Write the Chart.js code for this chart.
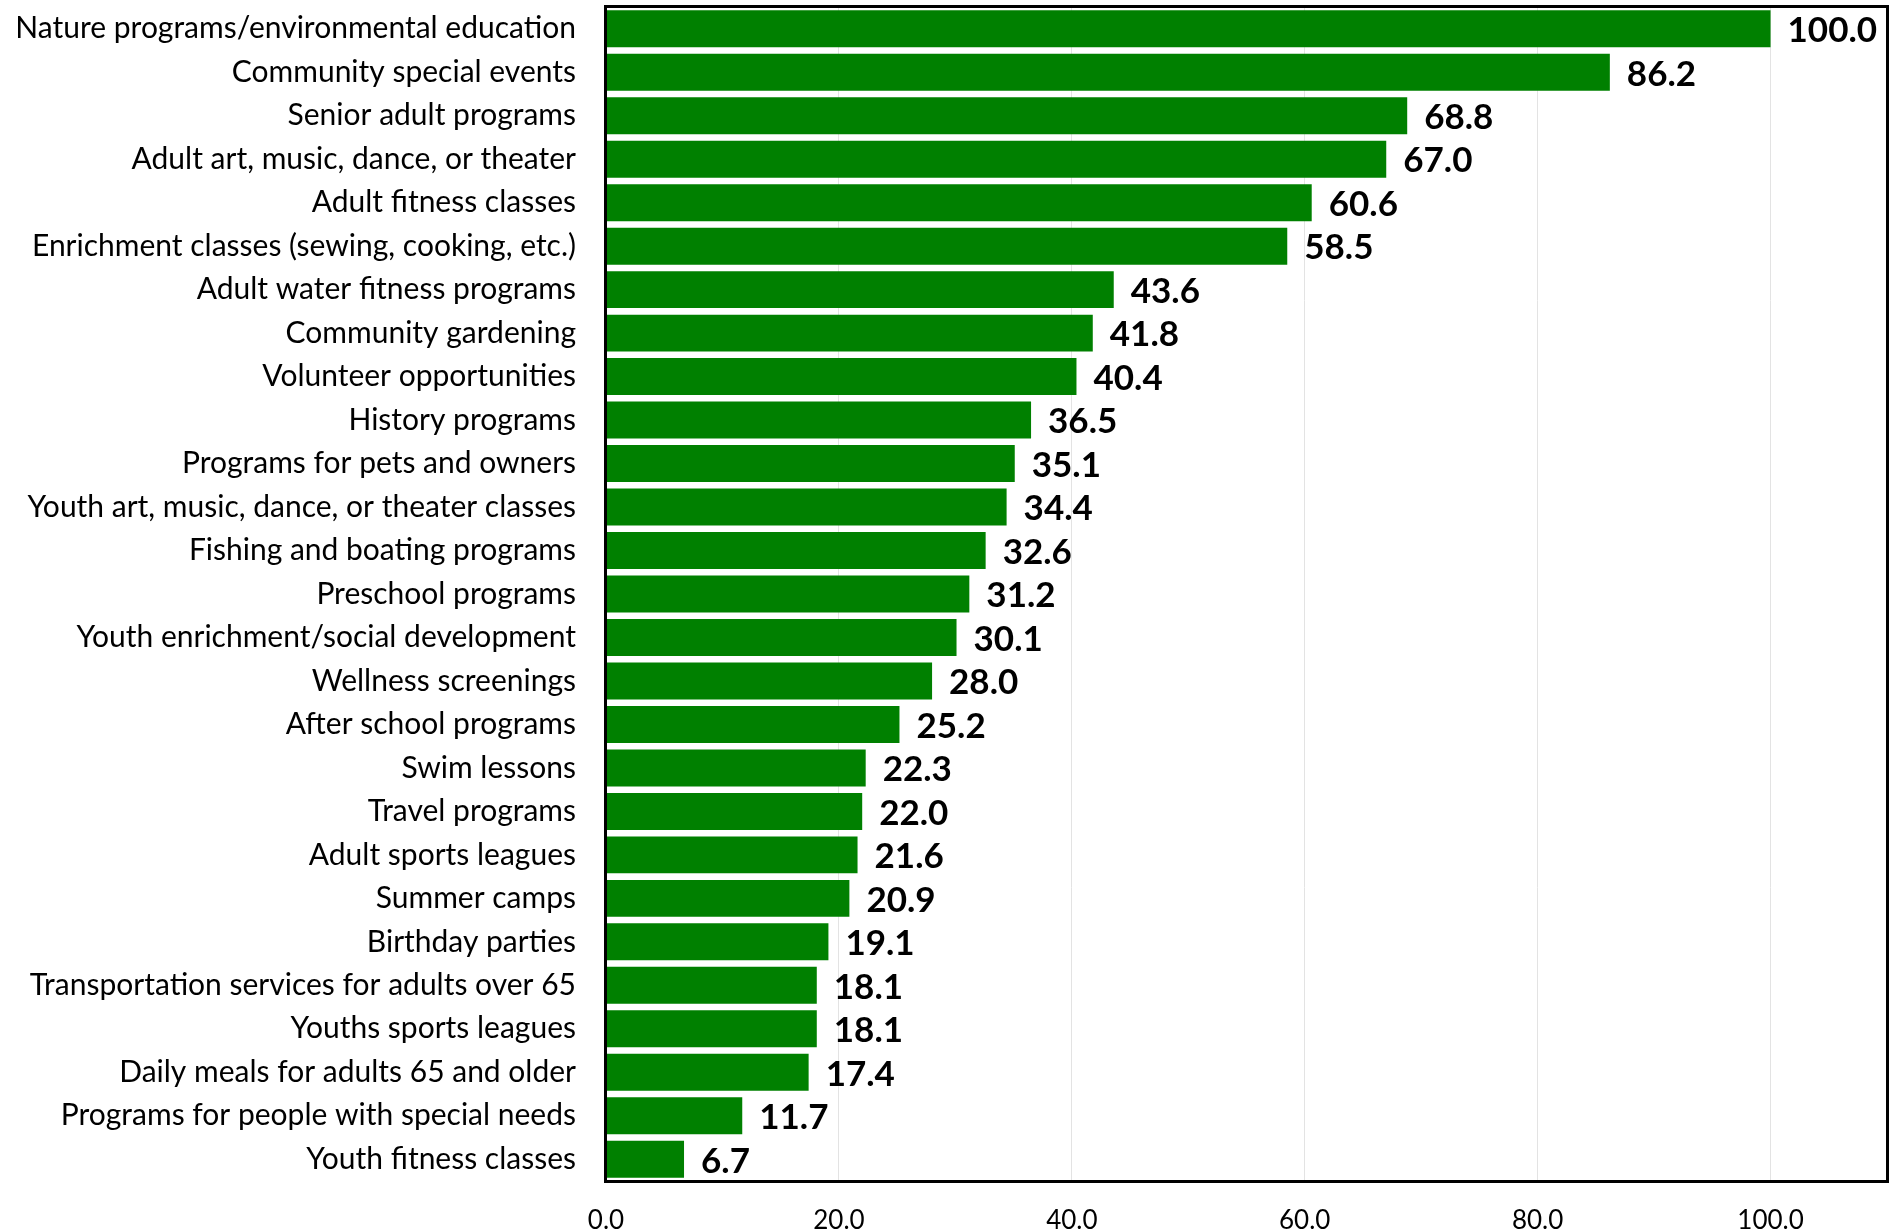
<!DOCTYPE HTML>
<html>
<head>
    <script src="https://cdn.jsdelivr.net/npm/chart.js@4.4.0/dist/chart.umd.min.js"></script>
    <style>
        body { margin: 0; background: #fff; }
        #wrap { width: 1898px; height: 1231px; }
    </style>
</head>
<body>
<div id="wrap"><canvas id="bar-chart"></canvas></div>

<script>
    var programs = [
        "Nature programs/environmental education",
        "Community special events",
        "Senior adult programs",
        "Adult art, music, dance, or theater",
        "Adult fitness classes",
        "Enrichment classes (sewing, cooking, etc.)",
        "Adult water fitness programs",
        "Community gardening",
        "Volunteer opportunities",
        "History programs",
        "Programs for pets and owners",
        "Youth art, music, dance, or theater classes",
        "Fishing and boating programs",
        "Preschool programs",
        "Youth enrichment/social development",
        "Wellness screenings",
        "After school programs",
        "Swim lessons",
        "Travel programs",
        "Adult sports leagues",
        "Summer camps",
        "Birthday parties",
        "Transportation services for adults over 65",
        "Youths sports leagues",
        "Daily meals for adults 65 and older",
        "Programs for people with special needs",
        "Youth fitness classes"
    ];
    var percents = [100.0, 86.2, 68.8, 67.0, 60.6, 58.5, 43.6, 41.8, 40.4, 36.5, 35.1, 34.4, 32.6,
                    31.2, 30.1, 28.0, 25.2, 22.3, 22.0, 21.6, 20.9, 19.1, 18.1, 18.1, 17.4, 11.7, 6.7];
    var xTicks = [0, 20, 40, 60, 80, 100];

    var fontName = "Lato, 'Open Sans', sans-serif";

    // value labels at the end of each bar
    var valueLabels = {
        id: 'valueLabels',
        afterDatasetsDraw: function(chart) {
            var ctx = chart.ctx;
            var meta = chart.getDatasetMeta(0);
            ctx.save();
            ctx.font = "bold 35px " + fontName;
            ctx.fillStyle = "#000";
            ctx.textAlign = "left";
            ctx.textBaseline = "middle";
            meta.data.forEach(function(bar, i) {
                ctx.fillText(percents[i].toFixed(1), bar.x + 17, bar.y + 2);
            });
            ctx.restore();
        }
    };

    // black frame round the plot area
    var plotFrame = {
        id: 'plotFrame',
        afterDraw: function(chart) {
            var a = chart.chartArea;
            var ctx = chart.ctx;
            ctx.save();
            ctx.strokeStyle = "#000";
            ctx.lineWidth = 3;
            ctx.strokeRect(a.left - 0.5, a.top - 0.5, a.right - a.left + 1, a.bottom - a.top + 1);
            ctx.restore();
        }
    };

    new Chart(document.getElementById("bar-chart"), {
        type: 'bar',
        data: {
            labels: programs,
            datasets: [{
                data: percents,
                backgroundColor: "#008000",
                borderWidth: 0,
                barPercentage: 0.85,
                categoryPercentage: 1.0
            }]
        },
        plugins: [valueLabels, plotFrame],
        options: {
            indexAxis: 'y',
            responsive: true,
            maintainAspectRatio: false,
            animation: false,
            layout: { padding: { top: 7, right: 11, bottom: 0, left: 0 } },
            plugins: {
                legend: { display: false },
                tooltip: { enabled: false }
            },
            scales: {
                x: {
                    min: 0,
                    max: 110,
                    afterFit: function(s) {
                        s.height = 50;
                        s.paddingLeft = 0;
                        s.paddingRight = 0;
                    },
                    afterBuildTicks: function(s) {
                        s.ticks = xTicks.map(function(v) { return { value: v }; });
                    },
                    grid: { color: "#e3e3e3", lineWidth: 1, drawTicks: false },
                    border: { display: false },
                    ticks: {
                        padding: 24,
                        color: "#000",
                        font: { family: fontName, size: 26 },
                        callback: function(v) { return Number(v).toFixed(1); }
                    }
                },
                y: {
                    afterFit: function(s) {
                        s.width = 606;
                        s.paddingTop = 0;
                        s.paddingBottom = 0;
                    },
                    grid: { display: false, drawTicks: false },
                    border: { display: false },
                    ticks: {
                        padding: 30,
                        color: "#000",
                        autoSkip: false,
                        font: { family: fontName, size: 30 }
                    }
                }
            }
        }
    });
</script>

</body>
</html>
